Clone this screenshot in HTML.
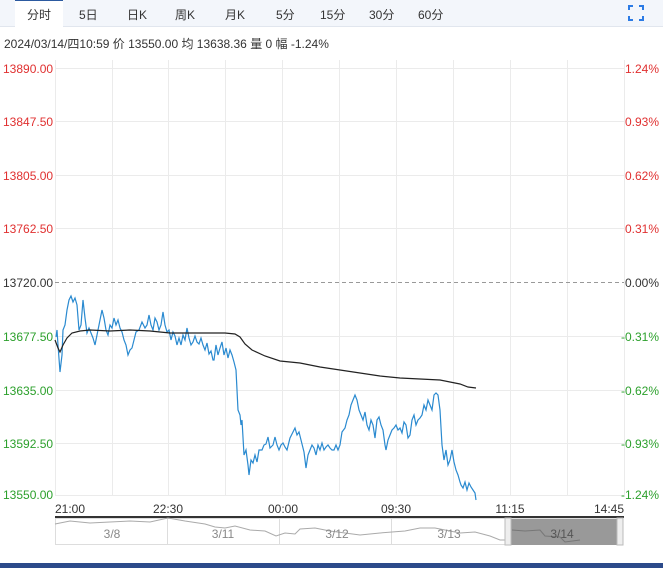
<!DOCTYPE html>
<html><head><meta charset="utf-8"><style>
body{margin:0;width:663px;height:568px;background:#fff;font-family:"Liberation Sans","Noto Sans CJK SC",sans-serif;overflow:hidden;position:relative}
.tabs{position:absolute;left:0;top:0;width:663px;height:26px;background:#f3f6fb;border-bottom:1px solid #e1e6ee}
.tab{position:absolute;top:6px;font-size:12px;color:#333}
.act{position:absolute;left:15px;top:0;width:48px;height:27px;background:#fff;border-top:1px solid #2c5aa0}
.info{position:absolute;left:4px;top:35px;font-size:12px;color:#333}
.bar{position:absolute;left:0;top:563px;width:663px;height:5px;background:#2c4a8a}
</style></head><body>
<div class="tabs"><div class="act"></div>
<span class="tab" style="left:27px">分时</span><span class="tab" style="left:79px">5日</span><span class="tab" style="left:127px">日K</span><span class="tab" style="left:175px">周K</span><span class="tab" style="left:225px">月K</span><span class="tab" style="left:276px">5分</span><span class="tab" style="left:320px">15分</span><span class="tab" style="left:369px">30分</span><span class="tab" style="left:418px">60分</span>
<svg style="position:absolute;left:628px;top:5px" width="16" height="16"><path d="M1 5V1H5M11 1H15V5M15 11V15H11M5 15H1V11" stroke="#2c7be5" stroke-width="2" fill="none"/></svg>
</div>
<div class="info">2024/03/14/四10:59 价 13550.00 均 13638.36 量 0 幅 -1.24%</div>
<svg style="position:absolute;left:0;top:0" width="663" height="563" font-family="Liberation Sans, sans-serif" font-size="12">
<g stroke="#ebebeb" stroke-width="1">
<line x1="55" x2="624" y1="68.5" y2="68.5"/><line x1="55" x2="624" y1="121.5" y2="121.5"/><line x1="55" x2="624" y1="175.5" y2="175.5"/><line x1="55" x2="624" y1="228.5" y2="228.5"/><line x1="55" x2="624" y1="336.5" y2="336.5"/><line x1="55" x2="624" y1="390.5" y2="390.5"/><line x1="55" x2="624" y1="443.5" y2="443.5"/><line x1="55" x2="624" y1="495.5" y2="495.5"/>
<line x1="55.5" x2="55.5" y1="60" y2="495"/><line x1="112.5" x2="112.5" y1="60" y2="495"/><line x1="168.5" x2="168.5" y1="60" y2="495"/><line x1="225.5" x2="225.5" y1="60" y2="495"/><line x1="282.5" x2="282.5" y1="60" y2="495"/><line x1="339.5" x2="339.5" y1="60" y2="495"/><line x1="396.5" x2="396.5" y1="60" y2="495"/><line x1="453.5" x2="453.5" y1="60" y2="495"/><line x1="510.5" x2="510.5" y1="60" y2="495"/><line x1="567.5" x2="567.5" y1="60" y2="495"/><line x1="624.5" x2="624.5" y1="60" y2="495"/>
</g>
<line x1="55" x2="624" y1="282.5" y2="282.5" stroke="#999" stroke-dasharray="4,3"/>
<g fill="#e03030"><text x="3" y="73">13890.00</text><text x="3" y="126">13847.50</text><text x="3" y="180">13805.00</text><text x="3" y="233">13762.50</text></g>
<text x="3" y="287" fill="#333">13720.00</text>
<g fill="#2ca02c"><text x="3" y="341">13677.50</text><text x="3" y="395">13635.00</text><text x="3" y="448">13592.50</text><text x="3" y="499">13550.00</text></g>
<g fill="#e03030" text-anchor="end"><text x="659" y="73">1.24%</text><text x="659" y="126">0.93%</text><text x="659" y="180">0.62%</text><text x="659" y="233">0.31%</text></g>
<text x="659" y="287" fill="#333" text-anchor="end">0.00%</text>
<g fill="#2ca02c" text-anchor="end"><text x="659" y="341">-0.31%</text><text x="659" y="395">-0.62%</text><text x="659" y="448">-0.93%</text><text x="659" y="499">-1.24%</text></g>
<polyline fill="none" stroke="#2a8ad0" stroke-width="1.2" points="56,337 57,330 58,345 60,372 62,355 63,330 65,325 67,310 69,300 71,296 73,302 75,298 77,305 79,330 81,325 83,300 85,318 87,333 89,328 91,333 93,338 95,345 97,335 100,320 102,310 104,318 106,330 108,335 110,325 112,328 114,318 116,325 118,320 120,328 122,332 124,340 126,345 128,355 130,350 132,348 134,340 136,332 139,330 142,322 145,328 147,325 149,315 151,325 153,330 155,318 157,322 159,330 161,325 163,312 165,325 167,332 169,330 171,340 173,332 175,336 177,345 179,338 181,345 183,335 185,340 187,328 189,338 191,345 193,342 195,336 197,342 199,344 201,338 203,345 205,350 207,343 209,354 211,351 213,360 214,360 216,345 218,355 220,348 222,342 224,355 226,348 228,358 230,350 232,355 234,362 236,370 238,410 240,415 241,425 242,420 244,455 246,450 248,465 249,475 251,460 253,463 255,455 257,462 259,450 262,450 264,445 266,444 268,437 270,448 273,445 275,437 277,445 279,450 281,445 283,443 285,447 287,450 290,438 293,432 295,428 297,435 299,432 301,440 304,452 306,468 308,455 310,450 312,445 314,448 316,455 318,445 320,450 322,443 324,450 326,447 328,445 330,448 332,450 334,450 336,445 338,450 340,445 342,432 345,428 347,420 349,415 351,405 353,400 355,395 357,400 359,410 361,415 363,420 365,412 367,425 369,430 371,420 373,425 375,438 377,420 379,417 381,425 383,430 385,445 386,450 388,440 390,435 392,430 394,428 396,425 398,430 400,428 402,433 404,422 406,425 408,438 410,435 412,420 414,415 416,425 418,420 420,418 422,415 424,405 426,410 428,400 430,405 432,410 434,395 436,393 438,395 440,410 442,445 444,460 446,450 448,465 450,460 452,450 454,462 456,470 458,475 460,482 461,485 463,488 465,482 467,490 469,483 471,487 473,490 475,493 476,500"/>
<polyline fill="none" stroke="#222" stroke-width="1.2" points="55,340 58,348 60,352 63,345 67,338 72,333 80,331 90,330 110,331 130,330 150,331 170,333 190,333 210,333 225,333 235,334 240,337 245,344 252,350 265,356 280,361 300,363 320,367 340,370 360,373 380,376 400,378 420,379 440,380 450,382 460,384 468,387 476,388"/>
<g fill="#333"><text x="55" y="513">21:00</text><text x="168" y="513" text-anchor="middle">22:30</text><text x="283" y="513" text-anchor="middle">00:00</text><text x="396" y="513" text-anchor="middle">09:30</text><text x="510" y="513" text-anchor="middle">11:15</text><text x="624" y="513" text-anchor="end">14:45</text></g>
<rect x="55" y="516" width="569" height="2" fill="#333"/>
<rect x="55.5" y="518.5" width="562" height="26" fill="none" stroke="#ddd"/>
<g stroke="#ddd"><line x1="167.5" x2="167.5" y1="518" y2="545"/><line x1="279.5" x2="279.5" y1="518" y2="545"/><line x1="391.5" x2="391.5" y1="518" y2="545"/></g>
<polyline fill="none" stroke="#aaa" points="55,524 70,521 90,523 110,522 130,521 150,522 168,518 185,521 205,524 215,527 225,528 235,526 250,530 265,531 276,536 285,533 295,534 300,529 315,528 330,531 345,533 360,535 380,533 392,532 405,531 420,528 435,528 450,531 460,533 475,532 490,536 500,540 505,540"/>
<rect x="511" y="519" width="106" height="26" fill="#999"/>
<polyline fill="none" stroke="#777" points="512,530 525,531 540,530 545,536 560,537 565,542 580,540"/>
<rect x="505" y="518" width="6" height="27" fill="#eee" stroke="#bbb"/>
<rect x="617" y="518" width="6" height="27" fill="#eee" stroke="#bbb"/>
<g fill="#888" text-anchor="middle"><text x="112" y="538">3/8</text><text x="223" y="538">3/11</text><text x="337" y="538">3/12</text><text x="449" y="538">3/13</text><text x="562" y="538" fill="#555">3/14</text></g>
</svg>
<div class="bar"></div>
</body></html>
